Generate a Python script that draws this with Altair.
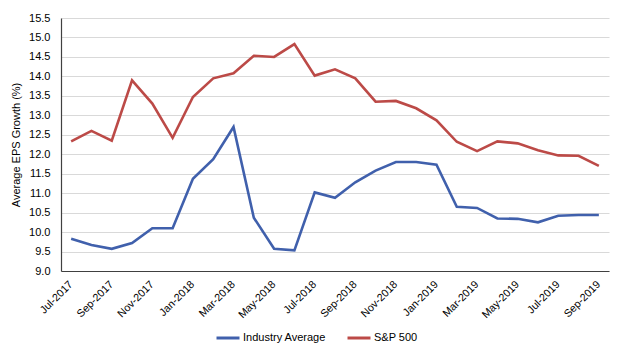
import altair as alt
import pandas as pd

months = ["Jul-2017", "Aug-2017", "Sep-2017", "Oct-2017", "Nov-2017", "Dec-2017",
          "Jan-2018", "Feb-2018", "Mar-2018", "Apr-2018", "May-2018", "Jun-2018",
          "Jul-2018", "Aug-2018", "Sep-2018", "Oct-2018", "Nov-2018", "Dec-2018",
          "Jan-2019", "Feb-2019", "Mar-2019", "Apr-2019", "May-2019", "Jun-2019",
          "Jul-2019", "Aug-2019", "Sep-2019"]

industry = [9.83, 9.67, 9.57, 9.72, 10.10, 10.10, 11.37, 11.87, 12.70, 10.37, 9.57, 9.53,
            11.02, 10.88, 11.28, 11.58, 11.80, 11.80, 11.73, 10.65, 10.62, 10.35, 10.34,
            10.25, 10.42, 10.44, 10.44]

sp500 = [12.33, 12.60, 12.35, 13.90, 13.30, 12.42, 13.47, 13.95, 14.08, 14.53, 14.50, 14.83,
         14.02, 14.18, 13.95, 13.35, 13.37, 13.18, 12.87, 12.32, 12.08, 12.33, 12.28,
         12.10, 11.97, 11.96, 11.70]

series_names = ["Industry Average", "S&P 500"]
colors = ["#4060AC", "#BC4A47"]
y_ticks = [9.0 + 0.5 * i for i in range(14)]

rows = []
for m, a, b in zip(months, industry, sp500):
    rows.append({"month": m, "series": series_names[0], "value": a})
    rows.append({"month": m, "series": series_names[1], "value": b})
df = pd.DataFrame(rows)

chart = alt.Chart(df).mark_line(strokeWidth=2.6).encode(
    x=alt.X("month:N", sort=months,
            scale=alt.Scale(type="point", padding=0.5),
            axis=alt.Axis(values=months[::2], labelAngle=-45, labelAlign="right",
                          labelBaseline="top", ticks=False, grid=False, title=None,
                          domainColor="#404040", domainWidth=1.2, labelPadding=8,
                          labelOffset=-4,
                          labelFontSize=10.7, labelColor="#000000")),
    y=alt.Y("value:Q", scale=alt.Scale(domain=[9.0, 15.5], nice=False, zero=False),
            axis=alt.Axis(values=y_ticks, format=".1f", ticks=False,
                          domainColor="#404040", domainWidth=1.2,
                          gridColor="#D9D9D9", gridWidth=1,
                          labelPadding=11, labelFontSize=11, labelColor="#000000",
                          title="Average EPS Growth (%)", titleFontSize=11,
                          titleFontWeight="normal", titleColor="#000000",
                          titlePadding=7)),
    color=alt.Color("series:N", sort=series_names,
                    scale=alt.Scale(domain=series_names, range=colors),
                    legend=alt.Legend(title=None, orient="none", direction="horizontal",
                                      legendX=154, legendY=307, padding=0,
                                      symbolType="stroke",
                                      symbolSize=529, symbolStrokeWidth=3,
                                      labelFontSize=11, labelColor="#000000",
                                      columnPadding=15, labelOffset=2)),
).properties(
    width=548, height=253,
    autosize=alt.AutoSizeParams(type="none"),
    padding={"left": 53, "top": 10, "right": 10, "bottom": 77},
).configure(font="Liberation Sans").configure_view(stroke=None)

chart.save("out.html", embed_options={"renderer": "svg", "actions": False})
